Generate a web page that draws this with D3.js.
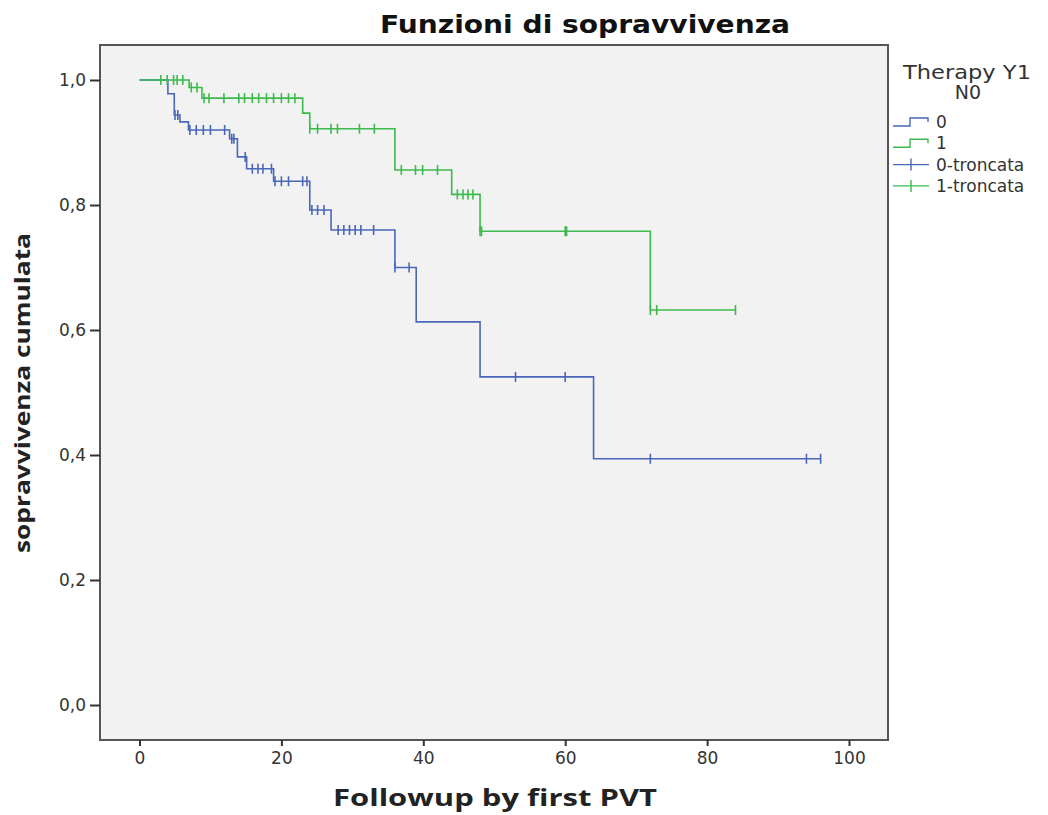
<!DOCTYPE html>
<html>
<head>
<meta charset="utf-8">
<script src="https://cdn.jsdelivr.net/npm/d3@7"></script>
<style>
  body { margin: 0; background: #fff; }
  text { font-family: "DejaVu Sans", sans-serif; }
</style>
</head>
<body>
<svg id="chart" width="1048" height="815"></svg>
<script>
// group 0 (blue): step times and survival after each step
var stepTime0 = [0, 4, 4.9, 5.7, 6.9, 12.7, 13.8, 15.1, 18.9, 24, 27, 36, 39, 48, 64];
var stepSurv0 = [1, 0.978, 0.944, 0.933, 0.92, 0.906, 0.877, 0.858, 0.838, 0.792, 0.76, 0.70, 0.613, 0.525, 0.394];
var censor0 = [5, 5.4, 7.1, 8, 9, 10, 12, 13, 13.3, 14.9, 15.9, 16.7, 17.4, 18.6, 19.1, 20, 21, 23,
               23.6, 24.3, 25.1, 26, 28, 28.8, 29.6, 30.4, 31.2, 33, 36, 38, 53, 60, 72, 94, 96];
var endTime0 = 96;

// group 1 (green)
var stepTime1 = [0, 7, 8.8, 23, 24, 36, 44, 48, 72];
var stepSurv1 = [1, 0.988, 0.971, 0.947, 0.922, 0.856, 0.817, 0.758, 0.632];
var censor1 = [3, 3.9, 4.8, 5.3, 6.1, 7.3, 8.1, 9.1, 9.8, 11.9, 14, 14.8, 15.9, 16.8, 17.9, 18.9, 20,
               21, 21.9, 24, 25.1, 27, 27.9, 31, 33.1, 36.9, 38.9, 39.9, 42, 44.8, 45.6, 46.3, 47, 48,
               48.2, 60, 60.2, 72, 72.9, 84];
var endTime1 = 84;

var xTicks = [0, 20, 40, 60, 80, 100];
var yTicks = [0, 0.2, 0.4, 0.6, 0.8, 1.0];
var legendLabels = ['0', '1', '0-troncata', '1-troncata'];

var blue = '#4a67b9', green = '#3cba4d';

var frame = {left: 100, right: 888, top: 45, bottom: 740};

var x = d3.scaleLinear().domain([0, 100]).range([139.5, 849]);
var y = d3.scaleLinear().domain([0, 1]).range([705, 80]);

var svg = d3.select('#chart');

svg.append('rect')
    .attr('x', frame.left).attr('y', frame.top)
    .attr('width', frame.right - frame.left)
    .attr('height', frame.bottom - frame.top)
    .attr('fill', '#f2f2f2')
    .attr('stroke', '#555').attr('stroke-width', 2);

// axes
var xAxis = svg.append('g')
    .attr('transform', 'translate(0,' + frame.bottom + ')')
    .call(d3.axisBottom(x).tickValues(xTicks).tickSize(6).tickSizeOuter(0).tickPadding(6));
var yAxis = svg.append('g')
    .attr('transform', 'translate(' + frame.left + ',0)')
    .call(d3.axisLeft(y).tickValues(yTicks).tickSize(10).tickSizeOuter(0).tickPadding(4)
        .tickFormat(function (d) { return d3.format('.1f')(d).replace('.', ','); }));

[xAxis, yAxis].forEach(function (a) {
    a.select('.domain').remove();
    a.selectAll('line').attr('stroke', '#333').attr('stroke-width', 2);
    a.selectAll('text').attr('fill', '#333').style('font-size', '17px');
});
yAxis.selectAll('text').attr('dy', '0.35em');

// survival curves
function survAt(times, surv, t) {
    var i = d3.bisectRight(times, t) - 1;
    return surv[Math.max(i, 0)];
}

var line = d3.line()
    .x(function (d) { return x(d[0]); })
    .y(function (d) { return y(d[1]); })
    .curve(d3.curveStepAfter);

var groups = [
    {times: stepTime0, surv: stepSurv0, censor: censor0, end: endTime0, color: blue},
    {times: stepTime1, surv: stepSurv1, censor: censor1, end: endTime1, color: green}
];

groups.forEach(function (g) {
    var pts = g.times.map(function (t, i) { return [t, g.surv[i]]; });
    pts.push([g.end, g.surv[g.surv.length - 1]]);

    svg.append('path')
        .datum(pts)
        .attr('fill', 'none')
        .attr('stroke', g.color)
        .attr('stroke-width', 1.6)
        .attr('d', line);

    svg.append('g').selectAll('line')
        .data(g.censor)
        .enter().append('line')
        .attr('x1', function (d) { return x(d); })
        .attr('x2', function (d) { return x(d); })
        .attr('y1', function (d) { return y(survAt(g.times, g.surv, d)) - 5; })
        .attr('y2', function (d) { return y(survAt(g.times, g.surv, d)) + 5; })
        .attr('stroke', g.color)
        .attr('stroke-width', 1.6);
});

// titles
svg.append('text')
    .attr('x', 585).attr('y', 33)
    .attr('text-anchor', 'middle')
    .attr('textLength', 410).attr('lengthAdjust', 'spacingAndGlyphs')
    .style('font-size', '25px').style('font-weight', 'bold')
    .attr('fill', '#111')
    .text('Funzioni di sopravvivenza');

svg.append('text')
    .attr('x', 495).attr('y', 806)
    .attr('text-anchor', 'middle')
    .attr('textLength', 324).attr('lengthAdjust', 'spacingAndGlyphs')
    .style('font-family', '"Open Sans", sans-serif')
    .style('font-size', '23px').style('font-weight', 'bold')
    .attr('fill', '#222')
    .text('Followup by first PVT');

svg.append('text')
    .attr('transform', 'translate(30,393) rotate(-90)')
    .attr('text-anchor', 'middle')
    .attr('textLength', 320).attr('lengthAdjust', 'spacingAndGlyphs')
    .style('font-family', '"Open Sans", sans-serif')
    .style('font-size', '22px').style('font-weight', 'bold')
    .attr('fill', '#222')
    .text('sopravvivenza cumulata');

// legend
var legend = svg.append('g');
legend.append('text')
    .attr('x', 967).attr('y', 79)
    .attr('text-anchor', 'middle')
    .attr('textLength', 128).attr('lengthAdjust', 'spacingAndGlyphs')
    .style('font-size', '19px').attr('fill', '#333')
    .text('Therapy Y1');
legend.append('text')
    .attr('x', 968).attr('y', 99)
    .attr('text-anchor', 'middle')
    .style('font-size', '19px').attr('fill', '#333')
    .text('N0');

var legendColors = [blue, green, blue, green];
var item = legend.selectAll('g.item')
    .data(legendLabels)
    .enter().append('g')
    .attr('class', 'item')
    .attr('transform', function (d, i) { return 'translate(893,' + (122 + i * 21.3) + ')'; });

item.append('path')
    .attr('fill', 'none')
    .attr('stroke', function (d, i) { return legendColors[i]; })
    .attr('stroke-width', 1.4)
    .attr('d', function (d, i) {
        return i < 2 ? 'M0,4H17V-4H35V0' : 'M0,0H36M18,-6V6';
    });

item.append('text')
    .attr('x', 43).attr('dy', '0.35em')
    .style('font-size', '17px').attr('fill', '#333')
    .text(function (d) { return d; });
</script>
</body>
</html>
